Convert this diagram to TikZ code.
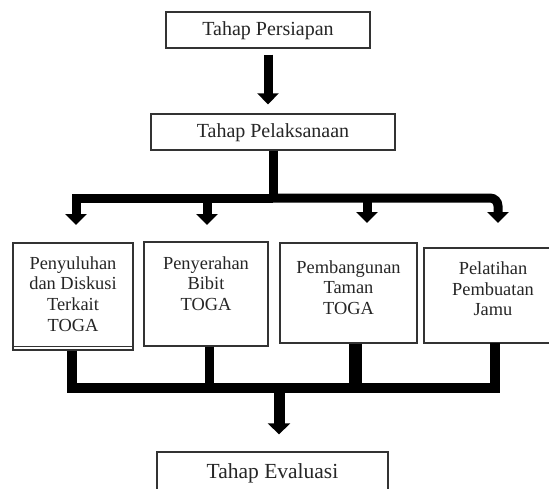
\documentclass[tikz,border=0pt]{standalone}
\usepackage{fontspec}
\setmainfont{Liberation Serif}
\usetikzlibrary{arrows.meta}
\begin{document}
\begin{tikzpicture}[x=1pt,y=-1pt,
  boxs/.style={draw=black!80, line width=1.3pt, inner sep=0pt, fill=white},
  txt/.style={align=center, text=black!85, inner sep=0pt, font=\fontsize{18.4}{20.6}\selectfont},
  hdr/.style={text=black!85, inner sep=0pt, font=\fontsize{20}{24}\selectfont},
  fat/.style={line width=9pt, line join=miter, draw=black},
  fatarrow/.style={fat, -{Triangle[width=21pt,length=11pt]}}]
\path[use as bounding box, clip] (0,0) rectangle (549,488);
\fill[white] (0,0) rectangle (549,488);
% header boxes
\node[boxs, minimum width=204pt, minimum height=36pt] (P1) at (268,30) {};
\node[hdr] (P1t) at (268,31) {Tahap Persiapan};
\node[boxs, minimum width=244pt, minimum height=36pt] (P2) at (273,132) {};
\node[hdr] (P2t) at (273,133) {Tahap Pelaksanaan};
% activity boxes
\node[boxs, minimum width=120pt, minimum height=107pt] (A) at (73,296.5) {};
\draw[draw=black!80, line width=1pt] ([yshift=4pt]A.south west) -- ([yshift=4pt]A.south east);
\node[txt] (At) at (73,294) {Penyuluhan\\dan Diskusi\\Terkait\\TOGA};
\node[boxs, minimum width=124pt, minimum height=104pt] (B) at (206,294) {};
\node[txt] (Bt) at (206,283.5) {Penyerahan\\Bibit\\TOGA};
\node[boxs, minimum width=137pt, minimum height=100pt] (C) at (348.5,293) {};
\node[txt] (Ct) at (348.5,287.5) {Pembangunan\\Taman\\TOGA};
\node[boxs, minimum width=156pt, minimum height=95pt] (D) at (502,295.5) {};
\node[txt] (Dt) at (493,289) {Pelatihan\\Pembuatan\\Jamu};
% evaluation box
\node[boxs, minimum width=231pt, minimum height=44pt] (E) at (272.5,474) {};
\node[hdr, font=\fontsize{21.5}{25}\selectfont] (Et) at (272.5,473) {Tahap Evaluasi};
% coordinates
\coordinate (j1) at (273,198);
\coordinate (tA) at (76,225);
\coordinate (jB) at (207,198);
\coordinate (tB) at (207,225);
\coordinate (jC) at (367,198);
\coordinate (tC) at (367,223);
\coordinate (tD) at (498,223);
\coordinate (jb) at (279,388);
% top arrow
\draw[fatarrow, shorten <=6pt, shorten >=9pt] (P1.south) -- (P1.south |- P2.north);
% distribution
\draw[fat] (P2.south) -- (j1);
\draw[fatarrow] (j1) -| (tA);
\draw[fatarrow, rounded corners=8pt] (j1) -| (tD);
\draw[fatarrow] (jB) -- (tB);
\draw[fatarrow] (jC) -- (tC);
% collection
\coordinate (sA) at ([xshift=-1pt]A.south);
\coordinate (sB) at ([xshift=3pt]B.south);
\coordinate (sC) at ([xshift=6.5pt]C.south);
\coordinate (sD) at (495,343);
\draw[fat, line width=10pt] (sA) |- (jb) -| (sD);
\draw[fat] (sB) -- (sB |- jb);
\draw[fat, line width=13pt] (sC) -- (sC |- jb);
\draw[fat, line width=11pt, -{Triangle[width=22pt,length=11pt]}, shorten >=17pt] (jb) -- (jb |- E.north);
\end{tikzpicture}
\end{document}
